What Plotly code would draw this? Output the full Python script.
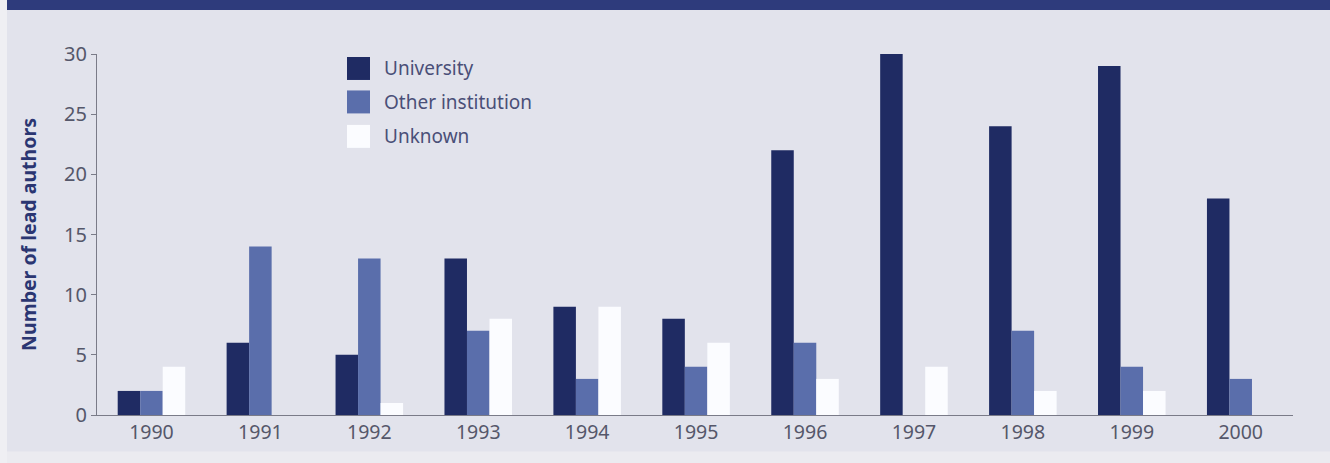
import plotly.graph_objects as go

years = ["1990", "1991", "1992", "1993", "1994", "1995", "1996", "1997", "1998", "1999", "2000"]
university = [2, 6, 5, 13, 9, 8, 22, 30, 24, 29, 18]
other_institution = [2, 14, 13, 7, 3, 4, 6, 0, 7, 4, 3]
unknown = [4, 0, 1, 8, 9, 6, 3, 4, 2, 2, 0]
series_names = ["University", "Other institution", "Unknown"]
y_ticks = [0, 5, 10, 15, 20, 25, 30]

colors = ["#1f2b63", "#5a6eab", "#fbfcff"]
BG = "#e2e3ec"
FONT = "Noto Sans"

fig = go.Figure()
for name, vals, col in zip(series_names, [university, other_institution, unknown], colors):
    fig.add_trace(go.Bar(x=years, y=vals, name=name, marker=dict(color=col, line=dict(width=0)),
                         showlegend=False))

W, H = 1330, 463
ml, mr, mt, mb = 97, 37, 54, 47.5
ph = H - mt - mb
pw = W - ml - mr


def px_x(p):
    return (p - ml) / pw


def px_y(p):
    return (H - mb - p) / ph


shapes = [
    # top band
    dict(type="rect", xref="paper", yref="paper", x0=px_x(7), x1=px_x(W + 2), y0=px_y(10), y1=px_y(-2),
         fillcolor="#2e3b7c", line=dict(width=0), layer="above"),
    # left page strip
    dict(type="rect", xref="paper", yref="paper", x0=px_x(-2), x1=px_x(7), y0=px_y(H + 2), y1=px_y(-2),
         fillcolor="#efeff3", line=dict(width=0), layer="below"),
    # bottom page strip
    dict(type="rect", xref="paper", yref="paper", x0=px_x(7), x1=px_x(W + 2), y0=px_y(H + 2), y1=px_y(452),
         fillcolor="#ebebf0", line=dict(width=0), layer="below"),
]
annotations = []
# manual legend (swatches + labels)
leg_top = [57, 90.5, 125]
for name, col, top in zip(series_names, colors, leg_top):
    shapes.append(dict(type="rect", xref="paper", yref="paper", x0=px_x(347), x1=px_x(370),
                       y0=px_y(top + 23), y1=px_y(top), fillcolor=col, line=dict(width=0)))
    annotations.append(dict(xref="paper", yref="paper", x=px_x(382), y=px_y(top + 11.5),
                            xanchor="left", yanchor="middle", text=name, showarrow=False,
                            font=dict(size=19, color="#4a4f78", family=FONT)))

fig.update_layout(
    width=W, height=H,
    margin=dict(l=ml, r=mr, t=mt, b=mb),
    paper_bgcolor=BG, plot_bgcolor=BG,
    barmode="group", bargap=0.38, bargroupgap=0,
    font=dict(family=FONT, color="#55576a", size=18),
    showlegend=False,
    xaxis=dict(type="category", range=[-0.5, 10.48], showline=True, linecolor="#7a7b88", linewidth=1,
               ticks="", showgrid=False, zeroline=False, tickfont=dict(size=19.5, color="#55576a")),
    yaxis=dict(range=[0, 30], tickvals=y_ticks, showline=True, linecolor="#7a7b88", linewidth=1,
               ticks="outside", ticklen=5, tickcolor="#7a7b88", showgrid=False, zeroline=False,
               tickfont=dict(size=20, color="#55576a"),
               title=dict(text="<b>Number of lead authors</b>", font=dict(size=19.5, color="#2b3672"),
                          standoff=22)),
    shapes=shapes,
    annotations=annotations,
)

fig.write_html("out.html", config={"displayModeBar": False},
               post_script="document.body.style.margin='0';document.body.style.background='#e2e3ec';")
